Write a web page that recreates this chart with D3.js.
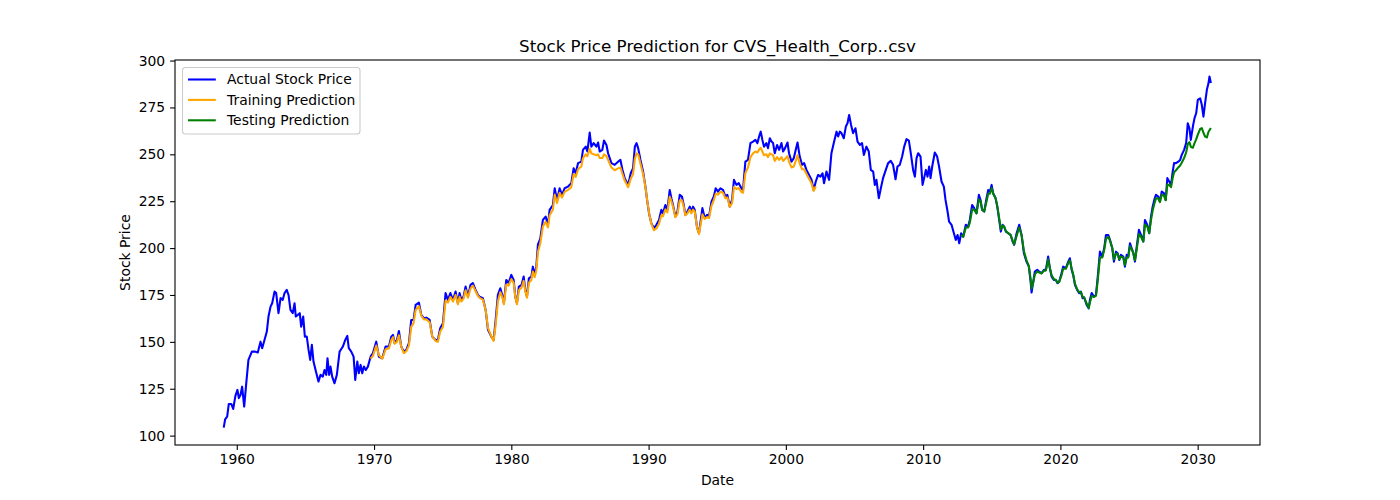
<!DOCTYPE html>
<html>
<head>
<meta charset="utf-8">
<script src="https://cdn.jsdelivr.net/npm/d3@7"></script>
<style>
  body { margin: 0; background: #fff; }
  svg { font-family: "DejaVu Sans", sans-serif; }
</style>
</head>
<body>
<svg id="chart" width="1400" height="500"></svg>
<script>
// series: [decimal year, price]
const actual = [
  [1959.05,104.3],[1959.15,108.7],[1959.3,110.1],[1959.42,116.9],[1959.6,116.9],[1959.74,114.2],[1959.9,121.2],
  [1960.05,124.4],[1960.15,120],[1960.27,121.7],[1960.39,126.1],[1960.54,115.5],[1960.69,127.9],[1960.85,140.4],
  [1961.1,144.8],[1961.34,144.8],[1961.53,144.3],[1961.73,150.1],[1961.85,146.6],[1962.02,151],[1962.19,155.5],
  [1962.31,163.5],[1962.46,168.8],[1962.58,170.6],[1962.75,176.8],[1962.87,176],[1963.04,165.3],[1963.19,173.3],
  [1963.35,172.4],[1963.48,176],[1963.64,177.7],[1963.77,175],[1963.91,167],[1964.08,165.3],[1964.21,170.6],
  [1964.3,163.5],[1964.45,164.4],[1964.59,165.3],[1964.69,158.1],[1964.84,163.5],[1964.96,152.8],[1965.1,152.8],
  [1965.23,145.7],[1965.35,140.4],[1965.47,148.4],[1965.59,139.5],[1965.74,135],[1965.95,128.8],[1966.1,132.4],
  [1966.27,131.5],[1966.39,135],[1966.52,132.4],[1966.61,141.3],[1966.73,132.4],[1966.83,136.8],[1966.95,131.5],
  [1967.12,127.9],[1967.29,132.4],[1967.49,144.8],[1967.73,147.5],[1967.9,151],[1968.05,153.2],[1968.16,146.6],
  [1968.34,144.8],[1968.51,142.1],[1968.63,129.7],[1968.78,139.5],[1968.89,133.3],[1969.02,137.7],[1969.14,133.3],
  [1969.26,136.8],[1969.4,135],[1969.55,136.8],[1969.75,142.1],[1969.92,144],[1970.16,150.1],[1970.35,142.1],
  [1970.6,141.3],[1970.84,147.5],[1971.08,147.5],[1971.26,152.8],[1971.38,153.7],[1971.5,149.3],[1971.67,151],
  [1971.81,155.8],[1971.98,147.5],[1972.17,144.8],[1972.35,145.7],[1972.54,149.3],[1972.71,161.7],[1972.88,161.7],
  [1973.03,169.7],[1973.27,170.9],[1973.44,164.4],[1973.63,162.6],[1973.81,162.9],[1974.05,161.7],[1974.24,152.8],
  [1974.48,151],[1974.65,151],[1974.82,157.3],[1975.02,159.9],[1975.21,176],[1975.38,172.4],[1975.56,176],
  [1975.75,172.4],[1975.94,176.8],[1976.11,170.6],[1976.23,176],[1976.36,172.4],[1976.52,174.1],[1976.67,179.5],
  [1976.84,174.1],[1977.03,180.4],[1977.2,181.3],[1977.4,177.7],[1977.57,175],[1977.69,174.1],[1977.93,173.3],
  [1978.13,167],[1978.3,156.4],[1978.54,152.8],[1978.71,151],[1978.86,161.7],[1979.02,175],[1979.2,178.6],
  [1979.34,175],[1979.46,170.6],[1979.63,183],[1979.8,181.3],[1980.0,185.7],[1980.17,183],[1980.29,174.1],
  [1980.41,170.6],[1980.55,179.5],[1980.75,180.4],[1980.9,184.8],[1981.02,177.7],[1981.14,174.1],[1981.28,183.9],
  [1981.46,184.8],[1981.57,190.1],[1981.7,185.7],[1981.82,190.1],[1981.94,202],[1982.11,205],[1982.3,215],
  [1982.5,216.8],[1982.67,212.4],[1982.79,220.4],[1983.03,223],[1983.16,231.9],[1983.33,225.7],[1983.52,231.9],
  [1983.69,228.4],[1983.88,231.9],[1984.13,232.8],[1984.37,234.6],[1984.54,242.6],[1984.69,239.9],[1984.86,245.3],
  [1985.1,246.1],[1985.22,252.4],[1985.42,254.1],[1985.54,251.5],[1985.71,261.6],[1985.83,254.1],[1986.0,256],
  [1986.2,254.1],[1986.32,256.3],[1986.44,251.5],[1986.63,252.4],[1986.75,257.3],[1986.93,255],[1987.05,250.6],
  [1987.29,245.3],[1987.53,244.4],[1987.78,246.1],[1987.95,247],[1988.1,241.7],[1988.26,237.3],[1988.51,233.7],
  [1988.7,239.9],[1988.87,242.6],[1989.0,254.1],[1989.12,256],[1989.24,253.3],[1989.41,247],[1989.6,240.8],
  [1989.77,232.8],[1989.89,225.7],[1990.03,218.6],[1990.2,213.3],[1990.39,210.6],[1990.57,212.4],[1990.76,215],
  [1990.93,220.4],[1991.05,218.6],[1991.22,223],[1991.37,220.4],[1991.54,231],[1991.66,226.6],[1991.78,223],
  [1991.95,216.8],[1992.1,219.5],[1992.27,228.4],[1992.43,227.5],[1992.56,223],[1992.68,217.7],[1992.83,219.5],
  [1993.0,222.1],[1993.12,219.5],[1993.24,222.1],[1993.36,220.4],[1993.53,211],[1993.67,207.9],[1993.92,221.3],
  [1994.09,216],[1994.26,217.7],[1994.4,216.8],[1994.58,224.8],[1994.75,227.5],[1994.89,231.9],[1995.06,230.1],
  [1995.23,231.9],[1995.42,231],[1995.6,227.5],[1995.74,228.4],[1995.91,222.1],[1996.08,225.7],[1996.22,236.4],
  [1996.4,233.7],[1996.57,234.6],[1996.76,231.9],[1996.88,231],[1997.05,246.1],[1997.24,247],[1997.42,256],
  [1997.61,256.8],[1997.78,257.7],[1997.93,256],[1998.05,259.5],[1998.17,262.1],[1998.29,257.7],[1998.41,254.1],
  [1998.58,256],[1998.7,253.3],[1998.83,258.6],[1998.95,256.8],[1999.07,256],[1999.19,250.6],[1999.36,255],
  [1999.51,252.4],[1999.68,256],[1999.8,251.5],[1999.94,253.3],[2000.12,256.3],[2000.23,250.6],[2000.41,246.1],
  [2000.58,248],[2000.72,252.4],[2000.85,256.3],[2001.01,248.8],[2001.18,244.4],[2001.33,245.3],[2001.5,241.7],
  [2001.69,239],[2001.87,236.4],[2002.03,231],[2002.18,235.5],[2002.35,239],[2002.52,238.1],[2002.67,239.9],
  [2002.78,234.6],[2002.96,240.8],[2003.15,236.4],[2003.32,250.6],[2003.49,256],[2003.69,262.1],[2003.81,259.5],
  [2003.93,262.1],[2004.05,261.3],[2004.22,258.6],[2004.37,264.8],[2004.49,266.6],[2004.61,271],[2004.75,265.7],
  [2004.9,261.3],[2005.07,263.9],[2005.22,256.8],[2005.39,255],[2005.55,256],[2005.68,249.7],[2005.87,254.1],
  [2006.04,251.5],[2006.19,241.7],[2006.36,240.8],[2006.48,233.7],[2006.6,236.4],[2006.77,226.6],[2006.92,231.9],
  [2007.08,237.3],[2007.28,241.7],[2007.45,245.3],[2007.64,246.5],[2007.81,244.4],[2007.99,236.7],[2008.13,243.5],
  [2008.3,244.4],[2008.47,248.8],[2008.62,254.1],[2008.79,258.1],[2008.96,257.3],[2009.1,250.6],[2009.27,241.7],
  [2009.4,238.1],[2009.52,248],[2009.64,250.6],[2009.81,248.8],[2009.96,233.7],[2010.07,237.3],[2010.2,241.7],
  [2010.32,238.1],[2010.44,243.5],[2010.54,237.3],[2010.66,243.5],[2010.85,251],[2011.02,248.8],[2011.16,243.5],
  [2011.34,235.5],[2011.51,232.8],[2011.63,225.7],[2011.78,219.5],[2011.89,214.1],[2012.07,212.4],[2012.24,207.9],
  [2012.38,204.4],[2012.51,207],[2012.63,202.6],[2012.77,207.9],[2012.92,206.1],[2013.11,212.4],[2013.28,211.5],
  [2013.4,215],[2013.57,223],[2013.72,221.3],[2013.89,218.6],[2014.06,228.4],[2014.18,225.7],[2014.3,220.4],
  [2014.45,219.5],[2014.62,226.6],[2014.74,231],[2014.86,230.1],[2014.99,233.7],[2015.1,229.3],[2015.28,226.6],
  [2015.4,222.1],[2015.54,215],[2015.66,208.8],[2015.79,212.4],[2015.9,211.5],[2016.03,208.8],[2016.2,207.9],
  [2016.37,207],[2016.52,203.5],[2016.63,201.7],[2016.81,207.9],[2017.0,212.4],[2017.17,207],[2017.34,197.3],
  [2017.53,192.8],[2017.7,190.1],[2017.83,182.1],[2017.9,176.3],[2018.02,182.1],[2018.14,187.5],[2018.31,188.4],
  [2018.46,187.5],[2018.63,186.6],[2018.8,188.4],[2018.94,188.4],[2019.11,195.5],[2019.23,189.3],[2019.36,184.8],
  [2019.52,183],[2019.67,183],[2019.79,181.3],[2019.91,182.1],[2020.08,186.6],[2020.2,190.1],[2020.4,189.3],
  [2020.57,192.8],[2020.69,194.6],[2020.82,188.4],[2020.93,185.7],[2021.06,180.4],[2021.22,177.7],[2021.37,176],
  [2021.49,176.8],[2021.62,173.3],[2021.73,173.8],[2021.91,169.7],[2022.06,167.9],[2022.15,172.4],[2022.28,176],
  [2022.44,174.1],[2022.59,175],[2022.71,183.9],[2022.88,198.1],[2023.05,195.5],[2023.19,199.9],[2023.32,207],
  [2023.49,207],[2023.61,204.4],[2023.78,199.9],[2023.9,192.8],[2024.05,198.1],[2024.17,197.3],[2024.29,193.7],
  [2024.41,196.4],[2024.58,195.5],[2024.7,190.1],[2024.83,196.4],[2024.94,195.5],[2025.07,202.6],[2025.19,199.9],
  [2025.31,197.3],[2025.43,192.8],[2025.56,200.8],[2025.72,209.7],[2025.87,207],[2026.04,203.5],[2026.16,215],
  [2026.33,212.4],[2026.47,207.9],[2026.6,216.8],[2026.72,222.1],[2026.84,225.7],[2026.96,228.4],[2027.13,227.5],
  [2027.25,224.8],[2027.38,230.1],[2027.54,229.3],[2027.67,225.7],[2027.79,237.3],[2027.93,235.5],[2028.06,233.7],
  [2028.18,240.8],[2028.28,245.3],[2028.42,245.3],[2028.59,246.1],[2028.72,247],[2028.84,249.7],[2029.01,252.4],
  [2029.16,256],[2029.28,266.6],[2029.4,263.9],[2029.5,257.7],[2029.65,264.8],[2029.77,269.3],[2029.89,271.9],
  [2030.01,279],[2030.18,279.9],[2030.3,276.4],[2030.42,270.1],[2030.54,277.3],[2030.67,284.4],[2030.79,288],
  [2030.86,291.5],[2030.96,288]
];

const training = [
  [1969.75,141],[1969.92,142.5],[1970.16,148],[1970.35,143],[1970.6,141],[1970.84,146],[1971.08,146.5],
  [1971.26,151],[1971.38,152.5],[1971.5,149],[1971.67,150],[1971.81,153.5],[1971.98,147.5],[1972.17,144],
  [1972.35,145],[1972.54,148],[1972.71,158],[1972.88,160],[1973.03,167],[1973.27,169],[1973.44,164],
  [1973.63,162],[1973.81,162],[1974.05,160.5],[1974.24,153],[1974.48,150.5],[1974.65,150],[1974.82,155.5],
  [1975.02,158],[1975.21,172],[1975.38,171],[1975.56,174],[1975.75,171.5],[1975.94,175],[1976.11,170],
  [1976.23,174],[1976.36,171.5],[1976.52,173],[1976.67,177.5],[1976.84,173.5],[1977.03,178.5],[1977.2,180],
  [1977.4,177],[1977.57,174.5],[1977.69,173.5],[1977.93,172.5],[1978.13,167],[1978.3,157.5],[1978.54,153],
  [1978.71,150.5],[1978.86,159],[1979.02,171.5],[1979.2,176.5],[1979.34,174],[1979.46,170],[1979.63,180.5],
  [1979.8,180],[1980.0,183.5],[1980.17,181.5],[1980.29,174],[1980.41,170],[1980.55,177.5],[1980.75,179],
  [1980.9,182.5],[1981.02,177],[1981.14,173.5],[1981.28,181.5],[1981.46,183],[1981.57,187.5],[1981.7,184.5],
  [1981.82,188],[1981.94,198],[1982.11,202.5],[1982.3,211.5],[1982.5,214],[1982.67,211],[1982.79,217.5],
  [1983.03,220.5],[1983.16,228.5],[1983.33,224],[1983.52,229.5],[1983.69,227],[1983.88,230],[1984.13,231],
  [1984.37,232.5],[1984.54,239.5],[1984.69,238],[1984.86,242],[1985.1,243.5],[1985.22,248],[1985.42,250],
  [1985.54,249],[1985.71,253],[1985.83,250.5],[1986.0,250],[1986.2,249.5],[1986.32,250],[1986.44,248],
  [1986.63,248],[1986.75,250],[1986.93,249],[1987.05,247],[1987.29,243],[1987.53,241.5],[1987.78,242.5],
  [1987.95,243],[1988.1,239.5],[1988.26,236],[1988.51,232.5],[1988.7,237],[1988.87,239.5],[1989.0,247.5],
  [1989.12,250.5],[1989.24,250],[1989.41,245],[1989.6,239.5],[1989.77,232.5],[1989.89,226],[1990.03,219],
  [1990.2,213],[1990.39,209.5],[1990.57,210.5],[1990.76,213],[1990.93,217.5],[1991.05,217],[1991.22,220.5],
  [1991.37,219],[1991.54,227.5],[1991.66,225],[1991.78,222],[1991.95,216.5],[1992.1,218],[1992.27,225.5],
  [1992.43,225.5],[1992.56,222],[1992.68,217.5],[1992.83,218.5],[1993.0,220.5],[1993.12,218.5],[1993.24,220.5],
  [1993.36,219.5],[1993.53,211],[1993.67,207.5],[1993.92,218],[1994.09,215.5],[1994.26,216.5],[1994.4,216],
  [1994.58,222.5],[1994.75,225.5],[1994.89,229],[1995.06,228.5],[1995.23,230],[1995.42,229.5],[1995.6,226.5],
  [1995.74,227],[1995.91,222],[1996.08,224],[1996.22,232.5],[1996.4,231.5],[1996.57,232],[1996.76,230],
  [1996.88,229.5],[1997.05,240],[1997.24,243],[1997.42,248.5],[1997.61,250.5],[1997.78,251.5],[1997.93,251],
  [1998.05,252.5],[1998.17,253.5],[1998.29,251.5],[1998.41,249.5],[1998.58,250],[1998.7,248.5],[1998.83,250.5],
  [1998.95,250],[1999.07,249.5],[1999.19,246.5],[1999.36,248.5],[1999.51,247],[1999.68,248.5],[1999.8,246.5],
  [1999.94,247.5],[2000.12,249],[2000.23,246],[2000.41,243],[2000.58,243.5],[2000.72,246.5],[2000.85,249.5],
  [2001.01,245],[2001.18,242],[2001.33,242],[2001.5,239.5],[2001.69,237],[2001.87,234.5],[2002.03,230.5],
  [2002.18,233]
];

const testing = [
  [2012.77,207],[2012.92,206],[2013.11,211],[2013.28,211],[2013.4,213.5],[2013.57,220.5],[2013.72,220.5],
  [2013.89,218.5],[2014.06,226],[2014.18,225],[2014.3,220.5],[2014.45,219.5],[2014.62,225],[2014.74,229],
  [2014.86,229],[2014.99,232],[2015.1,229],[2015.28,226.5],[2015.4,222.5],[2015.54,216],[2015.66,210],
  [2015.79,212],[2015.9,211.5],[2016.03,209],[2016.2,208],[2016.37,207],[2016.52,204],[2016.63,202],
  [2016.81,206.5],[2017.0,211],[2017.17,207],[2017.34,198.5],[2017.53,193.5],[2017.7,190.5],[2017.83,183.5],
  [2017.9,178.5],[2018.02,181.5],[2018.14,186],[2018.31,187.5],[2018.46,187],[2018.63,186.5],[2018.8,188],
  [2018.94,188],[2019.11,194],[2019.23,189.5],[2019.36,185.5],[2019.52,183.5],[2019.67,183],[2019.79,181.5],
  [2019.91,182],[2020.08,185.5],[2020.2,189],[2020.4,189],[2020.57,192],[2020.69,193.5],[2020.82,189],
  [2020.93,186],[2021.06,181],[2021.22,178],[2021.37,176.5],[2021.49,176.5],[2021.62,174],[2021.73,173.5],
  [2021.91,170.5],[2022.06,168],[2022.15,171],[2022.28,174.5],[2022.44,174],[2022.59,174.5],[2022.71,182],
  [2022.88,195],[2023.05,195],[2023.19,199],[2023.32,205],[2023.49,206],[2023.61,204],[2023.78,200],
  [2023.9,194],[2024.05,197],[2024.17,197],[2024.29,194],[2024.41,195.5],[2024.58,195],[2024.7,191],
  [2024.83,195],[2024.94,195],[2025.07,201],[2025.19,199.5],[2025.31,197.5],[2025.43,193.5],[2025.56,199.5],
  [2025.72,207.5],[2025.87,206],[2026.04,203.5],[2026.16,212.5],[2026.33,211.5],[2026.47,208],[2026.6,215],
  [2026.72,220],[2026.84,223.5],[2026.96,226.5],[2027.13,226.5],[2027.25,224.5],[2027.38,228.5],[2027.54,228],
  [2027.67,225.5],[2027.79,234],[2027.93,233.5],[2028.06,232.5],[2028.18,237.5],[2028.28,240.5],[2028.42,241.5],
  [2028.59,243],[2028.72,244],[2028.84,245.5],[2029.01,248],[2029.16,251],[2029.28,255.5],[2029.4,256.5],
  [2029.5,254],[2029.65,253.5],[2029.77,256],[2029.89,258],[2030.01,260.5],[2030.18,263.5],[2030.3,264],
  [2030.42,261.5],[2030.54,259.5],[2030.67,259],[2030.79,262],[2030.96,264]
];

const xTicks = [1960, 1970, 1980, 1990, 2000, 2010, 2020, 2030];
const yTicks = [100, 125, 150, 175, 200, 225, 250, 275, 300];
const seriesNames = ["Actual Stock Price", "Training Prediction", "Testing Prediction"];
const seriesColors = ["blue", "orange", "green"];

const svg = d3.select("#chart");
const mLeft = 175, mRight = 1260, mTop = 60, mBottom = 445;

const x = d3.scaleLinear().domain([1955.5, 2034.54]).range([mLeft, mRight]);
const y = d3.scaleLinear().domain([95.0, 300.3]).range([mBottom, mTop]);

// title
svg.append("text")
    .attr("x", (mLeft + mRight) / 2)
    .attr("y", 52)
    .attr("text-anchor", "middle")
    .attr("font-size", "16.7px")
    .text("Stock Price Prediction for CVS_Health_Corp..csv");

// axes
const xAxis = svg.append("g")
    .attr("transform", `translate(0,${mBottom})`)
    .call(d3.axisBottom(x).tickValues(xTicks).tickFormat(d3.format("d"))
        .tickSize(4.9).tickPadding(4.4));
const yAxis = svg.append("g")
    .attr("transform", `translate(${mLeft},0)`)
    .call(d3.axisLeft(y).tickValues(yTicks).tickSize(4.9).tickPadding(4.9));

[xAxis, yAxis].forEach(g => {
    g.select(".domain").remove();
    g.selectAll("line").attr("stroke", "#000").attr("stroke-width", 1.1);
    g.selectAll("text").attr("font-size", "13.9px").attr("font-family", "DejaVu Sans").attr("fill", "#000");
});

svg.append("text")
    .attr("x", (mLeft + mRight) / 2)
    .attr("y", 485)
    .attr("text-anchor", "middle")
    .attr("font-size", "13.9px")
    .text("Date");
svg.append("text")
    .attr("transform", `translate(130,${(mTop + mBottom) / 2}) rotate(-90)`)
    .attr("text-anchor", "middle")
    .attr("font-size", "13.9px")
    .text("Stock Price");

// lines
const line = d3.line().x(d => x(d[0])).y(d => y(d[1]));
const plot = svg.append("g");
[actual, training, testing].forEach((data, i) => {
    plot.append("path")
        .datum(data)
        .attr("fill", "none")
        .attr("stroke", seriesColors[i])
        .attr("stroke-width", 2.08)
        .attr("stroke-linejoin", "round")
        .attr("d", line);
});

// frame
svg.append("rect")
    .attr("x", mLeft).attr("y", mTop)
    .attr("width", mRight - mLeft).attr("height", mBottom - mTop)
    .attr("fill", "none").attr("stroke", "#000").attr("stroke-width", 1.1);

// legend
const legend = svg.append("g").attr("transform", "translate(182.5,67.5)");
legend.append("rect")
    .attr("width", 177.5).attr("height", 66.5)
    .attr("rx", 3).attr("ry", 3)
    .attr("fill", "#fff").attr("fill-opacity", 0.8)
    .attr("stroke", "#cccccc").attr("stroke-width", 1.1);
seriesNames.forEach((name, i) => {
    const row = legend.append("g").attr("transform", `translate(0,${12 + i * 20.4})`);
    row.append("line")
        .attr("x1", 5.5).attr("x2", 33.3)
        .attr("stroke", seriesColors[i]).attr("stroke-width", 2.08);
    row.append("text")
        .attr("x", 44.5).attr("dy", "0.35em")
        .attr("font-size", "13.9px")
        .text(name);
});
</script>
</body>
</html>
